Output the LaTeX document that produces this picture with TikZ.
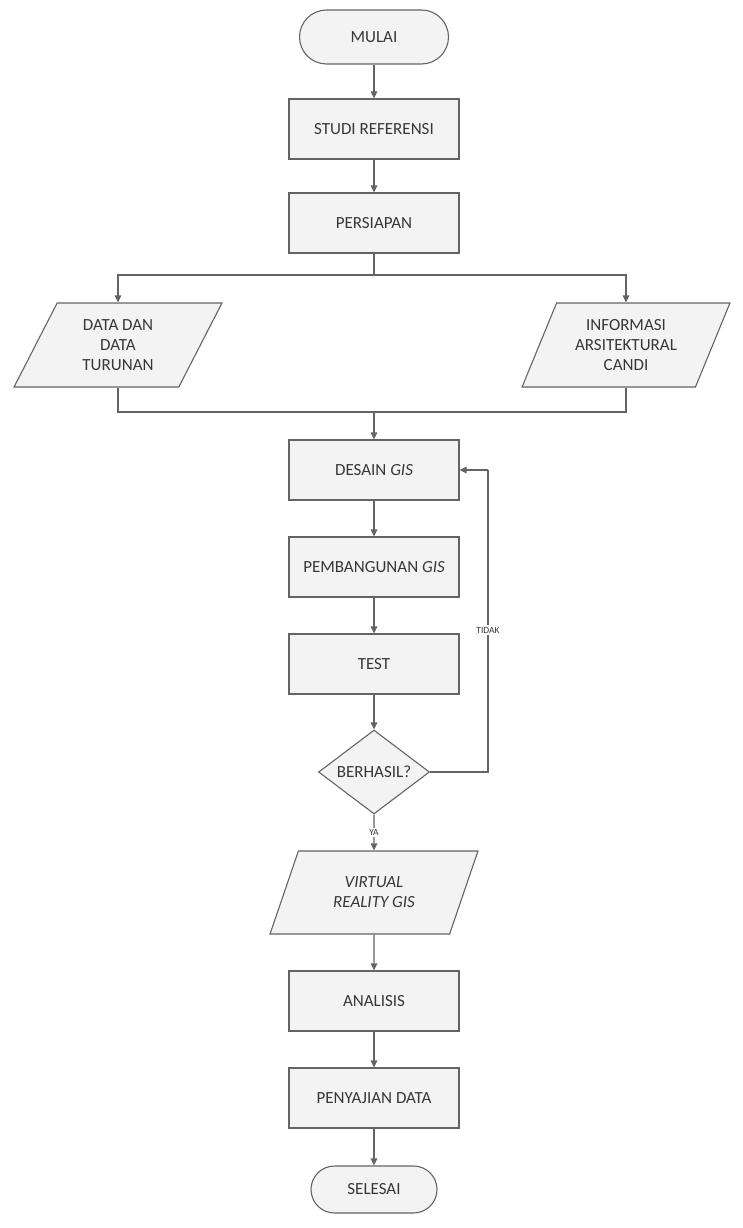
\documentclass[tikz,border=0pt]{standalone}
\usepackage{fontspec}
\setmainfont{Carlito}
\usepackage{tikz}
\usetikzlibrary{positioning, shapes.geometric, arrows.meta}
\definecolor{LineGray}{RGB}{100,100,100}
\definecolor{BoxFill}{RGB}{243,243,243}
\definecolor{TextGray}{RGB}{55,55,55}

\begin{document}
\begin{tikzpicture}[x=1pt, y=-1pt,
    every node/.style={font=\fontsize{17}{20}\selectfont, text=TextGray},
    process/.style={draw=LineGray, fill=BoxFill, line width=1.1pt, minimum width=170pt, minimum height=60pt, inner sep=0pt},
    terminal/.style={draw=LineGray, fill=BoxFill, line width=1.1pt, rounded corners=#1, inner sep=0pt},
    inout/.style={trapezium, trapezium left angle=63.7, trapezium right angle=116.3, trapezium stretches=true,
      draw=LineGray, fill=BoxFill, line width=1.1pt, minimum width=208pt, minimum height=84pt, inner sep=0pt, align=center},
    decision/.style={diamond, aspect=1.3, draw=LineGray, fill=BoxFill, line width=1.1pt, minimum width=111pt, minimum height=84pt, inner sep=0pt},
    flow/.style={draw=LineGray, line width=1.1pt, -{Triangle[length=7pt, width=6.5pt]}},
    plain/.style={draw=LineGray, line width=1.1pt},
    branchtext/.style={font=\fontsize{9.5}{11}\selectfont, fill=white, inner sep=1.5pt}
  ]
    \useasboundingbox (0,0) rectangle (743,1228);

    % Start and preparation
    \node[terminal=27pt, minimum width=149pt, minimum height=54pt] (mulai) at (374,37) {MULAI};
    \node[process] (studi) at (374,129) {STUDI REFERENSI};
    \node[process] (persiapan) at (374,223) {PERSIAPAN};

    % Inputs
    \node[inout] (datadan) at (118,345) {DATA DAN\\DATA\\TURUNAN};
    \node[inout] (informasi) at (626,345) {INFORMASI\\ARSITEKTURAL\\CANDI};
    \coordinate (split) at (374,275);
    \coordinate (merge) at (374,412);

    % GIS loop
    \node[process] (desain) at (374,470) {DESAIN \textit{GIS}};
    \node[process] (bangun) at (374,567) {PEMBANGUNAN \textit{GIS}};
    \node[process] (test) at (374,664) {TEST};
    \node[decision] (berhasil) at (374,772) {BERHASIL?};
    \coordinate (back) at (488,470);

    % Output and end
    \node[inout, minimum height=83pt] (vrgis) at (374,892.5) {\textit{VIRTUAL}\\\textit{REALITY GIS}};
    \node[process] (analisis) at (374,1001) {ANALISIS};
    \node[process] (penyajian) at (374,1098) {PENYAJIAN DATA};
    \node[terminal=23.5pt, minimum width=126pt, minimum height=47pt] (selesai) at (374,1189.5) {SELESAI};

    % Connectors
    \draw[flow] (mulai) -- (studi);
    \draw[flow] (studi) -- (persiapan);
    \draw[plain] (persiapan) -- (split);
    \draw[flow] (split) -| (datadan.north);
    \draw[flow] (split) -| (informasi.north);
    \draw[plain] (datadan.south) |- (merge);
    \draw[plain] (informasi.south) |- (merge);
    \draw[flow] (merge) -- (desain);
    \draw[flow] (desain) -- (bangun);
    \draw[flow] (bangun) -- (test);
    \draw[flow] (test) -- (berhasil);
    \draw[plain] (berhasil.east) -| (back);
    \draw[flow] (back) -- (desain.east);
    \node[branchtext] (tidak) at (488,630) {TIDAK};
    \draw[flow] (berhasil) -- node[branchtext] (ya) {YA} (vrgis);
    \draw[flow] (vrgis) -- (analisis);
    \draw[flow] (analisis) -- (penyajian);
    \draw[flow] (penyajian) -- (selesai);
\end{tikzpicture}
\end{document}
